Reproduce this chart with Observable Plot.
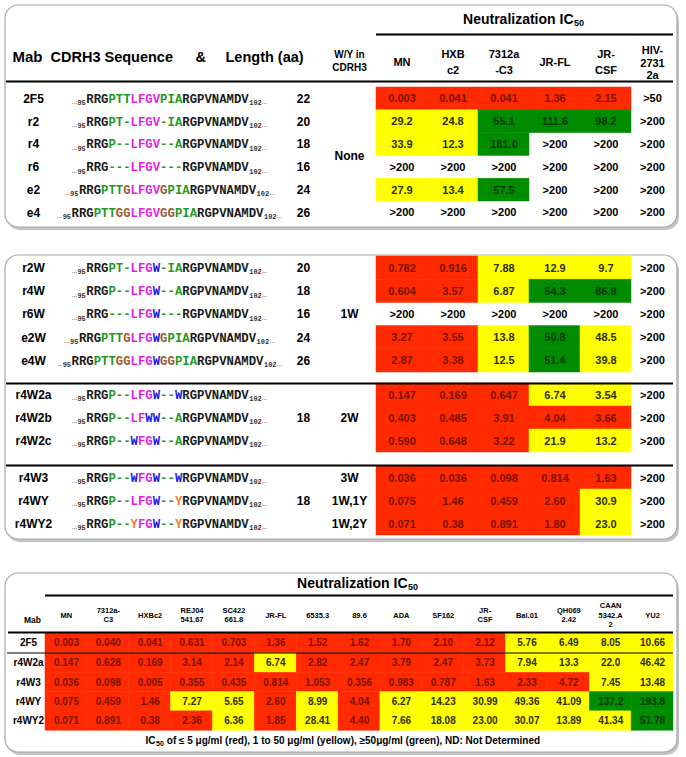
<!DOCTYPE html>
<html><head><meta charset="utf-8">
<script src="https://cdn.jsdelivr.net/npm/d3@7"></script>
<script src="https://cdn.jsdelivr.net/npm/@observablehq/plot@0.6"></script>
<style>body{margin:0;background:#fff} svg{display:block}</style>
</head><body><div id="chart"></div>
<script>
// ---------------- DATA ----------------
const strainsTop = ["MN", "HXB\nc2", "7312a\n-C3", "JR-FL", "JR-\nCSF", "HIV-\n2731\n2a"];

const mabsNone = ["2F5", "r2", "r4", "r6", "e2", "e4"];
const seqNone = ["RRGPTTLFGVPIARGPVNAMDV", "RRGPT-LFGV-IARGPVNAMDV", "RRGP--LFGV--ARGPVNAMDV",
  "RRG---LFGV---RGPVNAMDV", "RRGPTTGLFGVGPIARGPVNAMDV", "RRGPTTGGLFGVGGPIARGPVNAMDV"];
const lenNone = ["22", "20", "18", "16", "24", "26"];
const wyNone = ["None"];
const icNone = [
  ["0.003", "0.041", "0.041", "1.36", "2.15", ">50"],
  ["29.2", "24.8", "55.1", "111.6", "98.2", ">200"],
  ["33.9", "12.3", "181.0", ">200", ">200", ">200"],
  [">200", ">200", ">200", ">200", ">200", ">200"],
  ["27.9", "13.4", "57.5", ">200", ">200", ">200"],
  [">200", ">200", ">200", ">200", ">200", ">200"]
];

const mabs1W = ["r2W", "r4W", "r6W", "e2W", "e4W"];
const seq1W = ["RRGPT-LFGW-IARGPVNAMDV", "RRGP--LFGW--ARGPVNAMDV", "RRG---LFGW---RGPVNAMDV",
  "RRGPTTGLFGWGPIARGPVNAMDV", "RRGPTTGGLFGWGGPIARGPVNAMDV"];
const len1W = ["20", "18", "16", "24", "26"];
const wy1W = ["1W"];
const ic1W = [
  ["0.782", "0.916", "7.88", "12.9", "9.7", ">200"],
  ["0.604", "3.57", "6.87", "54.3", "86.9", ">200"],
  [">200", ">200", ">200", ">200", ">200", ">200"],
  ["3.27", "3.55", "13.8", "50.8", "48.5", ">200"],
  ["2.87", "3.38", "12.5", "51.4", "39.8", ">200"]
];

const mabs2W = ["r4W2a", "r4W2b", "r4W2c"];
const seq2W = ["RRGP--LFGW--WRGPVNAMDV", "RRGP--LFWW--ARGPVNAMDV", "RRGP--WFGW--ARGPVNAMDV"];
const len2W = ["18"];
const wy2W = ["2W"];
const ic2W = [
  ["0.147", "0.169", "0.647", "6.74", "3.54", ">200"],
  ["0.403", "0.485", "3.91", "4.04", "3.66", ">200"],
  ["0.590", "0.648", "3.22", "21.9", "13.2", ">200"]
];

const mabs3W = ["r4W3", "r4WY", "r4WY2"];
const seq3W = ["RRGP--WFGW--WRGPVNAMDV", "RRGP--LFGW--YRGPVNAMDV", "RRGP--YFGW--YRGPVNAMDV"];
const len3W = ["18"];
const wy3W = ["3W", "1W,1Y", "1W,2Y"];
const ic3W = [
  ["0.036", "0.036", "0.098", "0.814", "1.63", ">200"],
  ["0.075", "1.46", "0.459", "2.60", "30.9", ">200"],
  ["0.071", "0.38", "0.891", "1.80", "23.0", ">200"]
];

// cells whose colour class in the figure differs from the threshold rule
const bandOverrides = [{mab: "r4W2a", strain: 4, band: "yellow"}];

const strainsBottom = ["MN", "7312a-\nC3", "HXBc2", "REJ04\n541.67", "SC422\n661.8", "JR-FL", "6535.3",
  "89.6", "ADA", "SF162", "JR-\nCSF", "Bal.01", "QH069\n2.42", "CAAN\n5342.A\n2", "YU2"];
const mabsBottom = ["2F5", "r4W2a", "r4W3", "r4WY", "r4WY2"];
const icBottom = [
  ["0.003", "0.040", "0.041", "0.631", "0.703", "1.36", "1.52", "1.62", "1.70", "2.10", "2.12", "5.76", "6.49", "8.05", "10.66"],
  ["0.147", "0.628", "0.169", "3.14", "2.14", "6.74", "2.82", "2.47", "3.79", "2.47", "3.73", "7.94", "13.3", "22.0", "46.42"],
  ["0.036", "0.098", "0.005", "0.355", "0.435", "0.814", "1.053", "0.356", "0.983", "0.787", "1.63", "2.33", "4.72", "7.45", "13.48"],
  ["0.075", "0.459", "1.46", "7.27", "5.65", "2.60", "8.99", "4.04", "6.27", "14.23", "30.99", "49.36", "41.09", "137.2", "193.8"],
  ["0.071", "0.891", "0.38", "2.36", "6.36", "1.85", "28.41", "4.40", "7.66", "18.08", "23.00", "30.07", "13.89", "41.34", "51.78"]
];

const titleText = "Neutralization IC";
const captionText = " of \u2264 5 \u03bcg/ml (red), 1 to 50 \u03bcg/ml (yellow), \u226550\u03bcg/ml (green), ND: Not Determined";

// ---------------- STYLE / LAYOUT ----------------
const W = 686, H = 757;
const SANS = "Arial, 'Liberation Sans', Helvetica, sans-serif";
const MONO = "'Courier New', 'Liberation Mono', monospace";
const BANDS = {
  red: {fill: "#ff2a00", ink: "#7a1200"},
  yellow: {fill: "#ffff00", ink: "#2e2e00"},
  green: {fill: "#008c00", ink: "#053805"},
  none: {fill: null, ink: "#000000"}
};
const AA = {ink: "#1a1a1a", flank: "#1f9a1f", core: "#e41ee4", W: "#1717e8", Y: "#ef7a2c", G: "#9c5c2c"};

function bandOf(label, mab, col) {
  const o = bandOverrides.find(d => d.mab === mab && d.strain === col);
  if (o) return o.band;
  if (label.startsWith(">")) return "none";
  const v = parseFloat(label);
  return v <= 5 ? "red" : v < 50 ? "yellow" : "green";
}

function residueColour(seq, i) {
  const n = seq.length, c = seq[i];
  if (i < 3 || i >= n - 9) return AA.ink;
  if (c === "W") return AA.W;
  if (c === "Y") return AA.Y;
  const m = n - 12, k = i - 3, cs = (m - 4) / 2;
  if (k >= cs && k < cs + 4) return AA.core;
  if (c === "G") return AA.G;
  return AA.flank;
}

const L = {
  panels: [
    {x1: 5, x2: 677, y1: 5, y2: 227},
    {x1: 5, x2: 677, y1: 255, y2: 539},
    {x1: 5, x2: 677, y1: 573, y2: 752}
  ],
  mabX: 33, seqX: 167, lenX: 303, wyX: 349,
  seqFont: 12.3,
  topColX0: 376, topColW: [51, 51, 51, 51, 51, 42],
  groups: [{top: 87, step: 22.8}, {top: 256, step: 23.2}, {top: 383, step: 23}, {top: 466, step: 23}],
  botX0: 45, botX1: 673
};

const groups = [
  {mabs: mabsNone, seqs: seqNone, lens: lenNone, wy: wyNone, ic: icNone},
  {mabs: mabs1W, seqs: seq1W, lens: len1W, wy: wy1W, ic: ic1W},
  {mabs: mabs2W, seqs: seq2W, lens: len2W, wy: wy2W, ic: ic2W},
  {mabs: mabs3W, seqs: seq3W, lens: len3W, wy: wy3W, ic: ic3W}
].map((g, i) => ({...g, ...L.groups[i]}));

// ---------------- BUILD MARK TABLES ----------------
const topEdges = [L.topColX0];
L.topColW.forEach(w => topEdges.push(topEdges[topEdges.length - 1] + w));

const cells = [], mabLabels = [], midLabels = [], seqChars = [], seqPre = [], seqSuf = [];
const cw = 0.6 * L.seqFont;
groups.forEach(g => {
  const n = g.mabs.length;
  const rowY = r => g.top + (r + 0.5) * g.step;
  g.mabs.forEach((mab, r) => {
    const y1 = g.top + r * g.step, y2 = y1 + g.step, cy = rowY(r);
    mabLabels.push({x: L.mabX, y: cy, text: mab});
    const seq = g.seqs[r];
    const start = L.seqX - seq.length * cw / 2, end = start + seq.length * cw;
    [...seq].forEach((ch, i) => seqChars.push({x: start + (i + 0.5) * cw, y: cy, ch, colour: residueColour(seq, i)}));
    seqPre.push({x: start - 0.5, y: cy, end: start - 9});
    seqSuf.push({x: end + 0.5, y: cy, end: end + 13});
    g.ic[r].forEach((label, c) => {
      const b = bandOf(label, mab, c);
      cells.push({x1: topEdges[c], x2: topEdges[c + 1], y1, y2,
        cx: (topEdges[c] + topEdges[c + 1]) / 2, cy, label, fill: BANDS[b].fill, ink: BANDS[b].ink});
    });
  });
  const mid = g.top + n * g.step / 2;
  (g.lens.length === n ? g.lens.map((t, r) => ({x: L.lenX, y: rowY(r), text: t})) : [{x: L.lenX, y: mid, text: g.lens[0]}]).forEach(d => midLabels.push(d));
  (g.wy.length === n ? g.wy.map((t, r) => ({x: L.wyX, y: rowY(r), text: t})) : [{x: L.wyX, y: mid, text: g.wy[0]}]).forEach(d => midLabels.push(d));
});

const topHeads = strainsTop.map((s, c) => ({x: (topEdges[c] + topEdges[c + 1]) / 2, y: 60, text: s, lines: s.split("\n").length}));

// bottom table
const bw = (L.botX1 - L.botX0) / strainsBottom.length;
const botRowTop = r => r === 0 ? 633 : 653 + (r - 1) * 19.3;
const botRowH = r => r === 0 ? 19.5 : 19.3;
const botCells = [], botMabs = [];
mabsBottom.forEach((mab, r) => {
  const y1 = botRowTop(r), y2 = y1 + botRowH(r), cy = (y1 + y2) / 2;
  botMabs.push({x: 28, y: cy, text: mab});
  icBottom[r].forEach((label, c) => {
    const b = bandOf(label, "bottom:" + mab, c);
    const x1 = L.botX0 + c * bw;
    botCells.push({x1, x2: x1 + bw, y1, y2, cx: x1 + bw / 2, cy, label, fill: BANDS[b].fill, ink: BANDS[b].ink});
  });
});
const botHeads = strainsBottom.map((s, c) => ({x: L.botX0 + (c + 0.5) * bw, y: 614, text: s}));

const thickRules = [
  {y: 34, x1: 376, x2: 673},
  {y: 81, x1: 6, x2: 673},
  {y: 383, x1: 6, x2: 673},
  {y: 465, x1: 6, x2: 673},
  {y: 595, x1: 45, x2: 673},
  {y: 632, x1: 8, x2: 673}
];
const thinRules = [{y: 652.5, x1: 7, x2: 673}];

const titles = [
  {x: 573, y: 19, size: 13.5},
  {x: 407, y: 583, size: 13}
];

const txt = (data, o) => Plot.text(data, {x: "x", y: "y", text: "text", fontFamily: SANS, fontWeight: "bold", ...o});

const chart = Plot.plot({
  width: W, height: H, margin: 0,
  x: {domain: [0, W], range: [0, W], axis: null},
  y: {domain: [0, H], range: [0, H], axis: null},
  color: {type: "identity"},
  style: {background: "white"},
  marks: [
    // panels
    Plot.rect(L.panels, {x1: "x1", x2: "x2", y1: "y1", y2: "y2", rx: 13, fill: "#c4c4c4", dx: 2, dy: 3}),
    Plot.rect(L.panels, {x1: "x1", x2: "x2", y1: "y1", y2: "y2", rx: 13, fill: "white", stroke: "#a8a8a8", strokeWidth: 1.2}),
    // coloured cells
    Plot.rect(cells.filter(d => d.fill), {x1: "x1", x2: "x2", y1: "y1", y2: "y2", fill: "fill", stroke: "fill", strokeWidth: 0.5}),
    Plot.rect(botCells.filter(d => d.fill), {x1: "x1", x2: "x2", y1: "y1", y2: "y2", fill: "fill", stroke: "fill", strokeWidth: 0.5}),
    // rules
    Plot.ruleY(thickRules, {y: "y", x1: "x1", x2: "x2", stroke: "#000", strokeWidth: 2}),
    Plot.ruleY(thinRules, {y: "y", x1: "x1", x2: "x2", stroke: "#000", strokeWidth: 1}),
    // titles
    Plot.text(titles, {x: "x", y: "y", text: () => titleText, textAnchor: "end", fontSize: 14, fontFamily: SANS, fontWeight: "bold"}),
    Plot.text(titles, {x: d => d.x + 0.5, y: d => d.y + 4, text: () => "50", textAnchor: "start", fontSize: 9, fontFamily: SANS, fontWeight: "bold"}),
    // top header
    txt([{x: 27, y: 57, text: "Mab"}], {fontSize: 15}),
    txt([{x: 50, y: 57, text: "CDRH3 Sequence"}, {x: 195, y: 57, text: "&"}, {x: 225, y: 57, text: "Length (aa)"}], {fontSize: 14.5, textAnchor: "start"}),
    txt([{x: L.wyX, y: 59.5, text: "W/Y in\nCDRH3"}], {fontSize: 10, lineHeight: 1.3}),
    txt(topHeads.filter(d => d.lines < 3), {fontSize: 11, lineHeight: 1.45}),
    txt(topHeads.filter(d => d.lines >= 3), {fontSize: 11, lineHeight: 1.15, dy: 2}),
    // rows
    txt(mabLabels, {fontSize: 12}),
    txt(midLabels, {fontSize: 12}),
    Plot.text(seqChars, {x: "x", y: "y", text: "ch", fill: "colour", fontFamily: MONO, fontWeight: "bold", fontSize: L.seqFont}),
    Plot.text(seqPre, {x: "x", y: "y", text: () => "95", dy: 4, textAnchor: "end", fontFamily: MONO, fontWeight: "bold", fontSize: 7, fill: "#333"}),
    Plot.text(seqPre, {x: "end", y: "y", text: () => "...", dy: 3, textAnchor: "end", fontFamily: SANS, fontSize: 7, fill: "#444"}),
    Plot.text(seqSuf, {x: "x", y: "y", text: () => "102", dy: 4, textAnchor: "start", fontFamily: MONO, fontWeight: "bold", fontSize: 7, fill: "#333"}),
    Plot.text(seqSuf, {x: "end", y: "y", text: () => "...", dy: 3, textAnchor: "start", fontFamily: SANS, fontSize: 7, fill: "#444"}),
    Plot.text(cells, {x: "cx", y: "cy", text: "label", fill: "ink", fontFamily: SANS, fontWeight: "bold", fontSize: 11}),
    // bottom table
    txt([{x: 32, y: 620, text: "Mab"}], {fontSize: 8.5}),
    txt(botHeads, {fontSize: 7.5, lineHeight: 1.3}),
    txt(botMabs, {fontSize: 10}),
    Plot.text(botCells, {x: "cx", y: "cy", text: "label", fill: "ink", fontFamily: SANS, fontWeight: "bold", fontSize: 10}),
    // caption
    txt([{x: 155, y: 740, text: "IC"}], {fontSize: 10, textAnchor: "end"}),
    txt([{x: 155.5, y: 743, text: "50"}], {fontSize: 7, textAnchor: "start"}),
    txt([{x: 163.5, y: 740, text: captionText}], {fontSize: 10, textAnchor: "start"})
  ]
});
document.getElementById("chart").appendChild(chart);
</script></body></html>
